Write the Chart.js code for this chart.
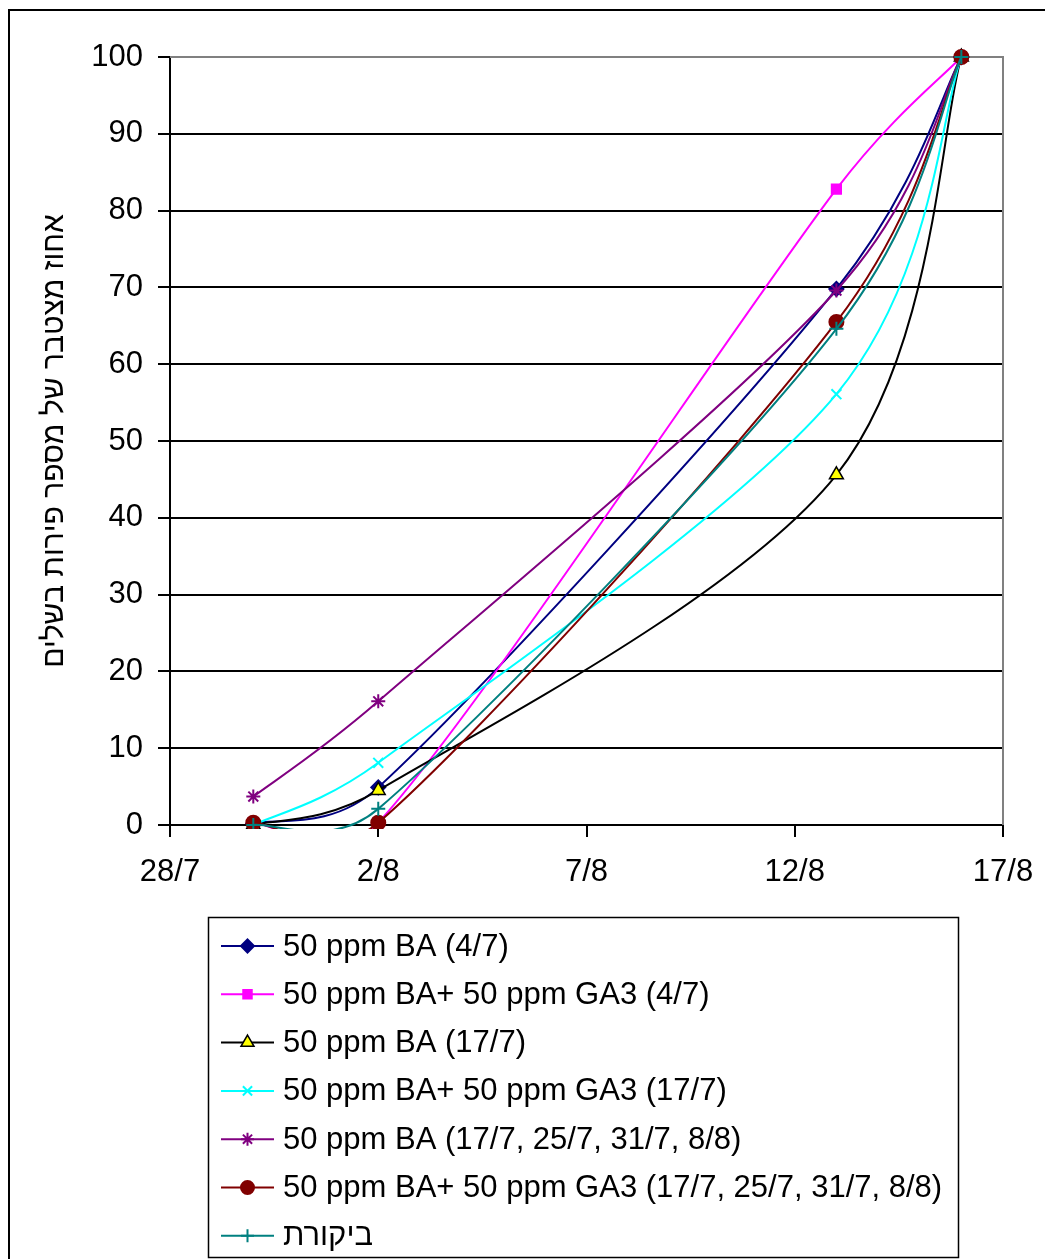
<!DOCTYPE html>
<html>
<head>
<meta charset="utf-8">
<script src="https://cdn.jsdelivr.net/npm/chart.js@4/dist/chart.umd.min.js"></script>
<style>
  html, body { margin: 0; padding: 0; background: #fff; overflow: hidden; }
  #wrap { width: 1045px; height: 1259px; }
</style>
</head>
<body>
<div id="wrap"><canvas id="ripeChart" width="1045" height="1259"></canvas></div>
<script>
// sampling dates as days counted from 28/7 -> 30/7, 2/8, 13/8, 16/8
const sampleDays = [2, 5, 16, 19];
const dayTickLabels = ['28/7', '2/8', '7/8', '12/8', '17/8'];

// cumulative % of ripe fruit, one array per treatment
const ba_4_7         = [0.2, 4.9, 69.8, 100];
const baGa_4_7       = [0.3, 0.3, 82.8, 100];
const ba_17_7        = [0,   4.5, 45.6, 100];
const baGa_17_7      = [0,   8.1, 56.1, 100];
const ba_repeat      = [3.7, 16.1, 69.6, 100];
const baGa_repeat    = [0.3, 0.3, 65.5, 100];
const control        = [0,   2.1, 64.6, 100];

const seriesNames = [
  '50 ppm BA (4/7)',
  '50 ppm BA+ 50 ppm GA3 (4/7)',
  '50 ppm BA (17/7)',
  '50 ppm BA+ 50 ppm GA3 (17/7)',
  '50 ppm BA (17/7, 25/7, 31/7, 8/8)',
  '50 ppm BA+ 50 ppm GA3 (17/7, 25/7, 31/7, 8/8)',
  'ביקורת'
];
const seriesValues = [ba_4_7, baGa_4_7, ba_17_7, baGa_17_7, ba_repeat, baGa_repeat, control];

const FONT = '"Liberation Sans", Arial, sans-serif';

// line colour, marker shape, marker fill, marker border, marker radius
const looks = [
  { line: '#000080', style: 'rectRot',  fill: '#000080', edge: '#000080', r: 7 },
  { line: '#FF00FF', style: 'rect',     fill: '#FF00FF', edge: '#FF00FF', r: 6.5 },
  { line: '#000000', style: 'triangle', fill: '#FFFF00', edge: '#000000', r: 8 },
  { line: '#00FFFF', style: 'crossRot', fill: '#00FFFF', edge: '#00FFFF', r: 7 },
  { line: '#800080', style: 'star',     fill: '#800080', edge: '#800080', r: 7 },
  { line: '#800000', style: 'circle',   fill: '#800000', edge: '#800000', r: 7 },
  { line: '#008080', style: 'cross',    fill: '#008080', edge: '#008080', r: 7 }
];

const datasets = seriesValues.map((vals, i) => ({
  label: seriesNames[i],
  data: vals.map((v, k) => ({ x: sampleDays[k], y: v })),
  borderColor: looks[i].line,
  backgroundColor: looks[i].fill,
  pointStyle: looks[i].style,
  pointRadius: looks[i].r,
  pointBackgroundColor: looks[i].fill,
  pointBorderColor: looks[i].edge,
  pointBorderWidth: looks[i].style === 'triangle' ? 1.5 : 2,
  borderWidth: 2,
  tension: 0.3,
  fill: false,
  // curves that swing under zero get cut just below the axis
  clip: { left: 20, top: 20, right: 20, bottom: 4 },
  order: seriesValues.length - i   // later series on top
}));

// spreadsheet-style smoothing: tangent along (next - prev), handle length
// min(chord/6, segment/2), endpoints use a duplicated neighbour
const spreadsheetSmooth = {
  id: 'spreadsheetSmooth',
  beforeDatasetDraw(chart, args) {
    const pts = args.meta.data;
    const line = args.meta.dataset;
    if (!line || pts.length < 2) return;
    const dist = (a, b) => Math.hypot(b.x - a.x, b.y - a.y);
    for (let i = 0; i < pts.length - 1; i++) {
      const p0 = pts[Math.max(i - 1, 0)], p1 = pts[i], p2 = pts[i + 1], p3 = pts[Math.min(i + 2, pts.length - 1)];
      const d12 = dist(p1, p2), d02 = dist(p0, p2), d13 = dist(p1, p3);
      const f1 = d02 > 0 ? Math.min(1 / 6, d12 / (2 * d02)) : 0;
      const f2 = d13 > 0 ? Math.min(1 / 6, d12 / (2 * d13)) : 0;
      p1.cp2x = p1.x + f1 * (p2.x - p0.x);
      p1.cp2y = p1.y + f1 * (p2.y - p0.y);
      p2.cp1x = p2.x - f2 * (p3.x - p1.x);
      p2.cp1y = p2.y - f2 * (p3.y - p1.y);
    }
    line._pointsUpdated = true;
  }
};

// grey plot frame, outer chart border and the boxed legend
const frameAndLegend = {
  id: 'frameAndLegend',
  beforeDatasetsDraw(chart) {
    const { ctx, chartArea: a } = chart;
    ctx.save();
    ctx.strokeStyle = '#808080';
    ctx.lineWidth = 2;
    ctx.beginPath();
    ctx.moveTo(a.left, a.top);
    ctx.lineTo(a.right, a.top);
    ctx.lineTo(a.right, a.bottom);
    ctx.stroke();
    ctx.restore();
  },
  afterDraw(chart) {
    const ctx = chart.ctx;
    ctx.save();
    ctx.strokeStyle = '#000';
    ctx.lineWidth = 2;
    ctx.strokeRect(9, 10, 1100, 1300);

    ctx.lineWidth = 1.5;
    ctx.strokeRect(208.5, 917.5, 750, 340);

    ctx.font = '31px ' + FONT;
    ctx.textBaseline = 'middle';
    ctx.textAlign = 'left';
    chart.data.datasets.forEach((ds, i) => {
      const y = 946 + i * 48.3;
      ctx.strokeStyle = ds.borderColor;
      ctx.lineWidth = 2;
      ctx.beginPath();
      ctx.moveTo(221, y);
      ctx.lineTo(274, y);
      ctx.stroke();
      ctx.fillStyle = ds.pointBackgroundColor;
      ctx.strokeStyle = ds.pointBorderColor;
      ctx.lineWidth = ds.pointBorderWidth;
      Chart.helpers.drawPoint(ctx, {
        pointStyle: ds.pointStyle,
        radius: ds.pointRadius - 0.5,
        borderWidth: ds.pointBorderWidth,
        rotation: 0
      }, 247.5, y);
      ctx.fillStyle = '#000';
      ctx.fillText(ds.label, 283, y + 1);
    });
    ctx.restore();
  }
};

new Chart(document.getElementById('ripeChart'), {
  type: 'line',
  data: { datasets },
  options: {
    responsive: false,
    animation: false,
    events: [],
    layout: { padding: { top: 57, right: 42, bottom: 364, left: 0 } },
    elements: { line: { capBezierPoints: false } },
    plugins: { legend: { display: false }, tooltip: { enabled: false } },
    scales: {
      x: {
        type: 'linear',
        min: 0,
        max: 20,
        afterFit: s => { s.height = 70; s.paddingLeft = 0; s.paddingRight = 0; },
        afterBuildTicks: s => { s.ticks = [0, 5, 10, 15, 20].map(v => ({ value: v })); },
        ticks: {
          callback: (v, i) => dayTickLabels[i],
          color: '#000',
          font: { family: FONT, size: 31 },
          padding: 17,
          maxRotation: 0,
          autoSkip: false
        },
        grid: { drawOnChartArea: false, color: '#000', tickLength: 12, lineWidth: 2 },
        border: { color: '#000', width: 2 }
      },
      y: {
        min: 0,
        max: 100,
        afterFit: s => { s.width = 170; },
        ticks: {
          stepSize: 10,
          color: '#000',
          font: { family: FONT, size: 31 },
          padding: 15
        },
        grid: { color: '#000', tickLength: 12, lineWidth: 2 },
        border: { color: '#000', width: 2 },
        title: {
          display: true,
          text: 'אחוז מצטבר של מספר פירות בשלים',
          color: '#000',
          font: { family: FONT, size: 30 },
          padding: { top: 37, bottom: 0 }
        }
      }
    }
  },
  plugins: [spreadsheetSmooth, frameAndLegend]
});
</script>
</body>
</html>
